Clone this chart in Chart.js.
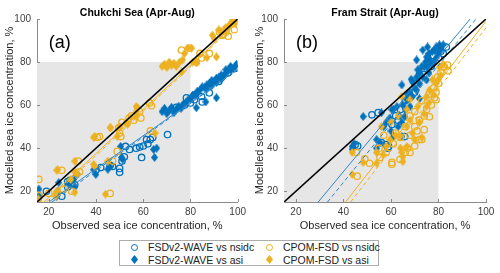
<!DOCTYPE html>
<html>
<head>
<meta charset="utf-8">
<script src="https://cdn.jsdelivr.net/npm/chart.js@4.4.1/dist/chart.umd.min.js"></script>
<style>
  body { margin: 0; background: #fff; width: 500px; height: 273px; position: relative; overflow: hidden;
         font-family: "Liberation Sans", Arial, sans-serif; }
  .panel { position: absolute; top: 0; width: 250px; height: 235px; }
  #legend { position: absolute; left: 119px; top: 240px; width: 258px; height: 24px;
            border: 1px solid #adadad; background: #fff; font-size: 10.5px; color: #222; }
  .item { position: absolute; white-space: nowrap; line-height: 12px; }
  .sym { position: absolute; }
  .circ { width: 5px; height: 5px; border-radius: 50%; border: 1.4px solid; }
  .dia { width: 5px; height: 5px; transform: scaleY(1.3) rotate(45deg); }
</style>
</head>
<body>
<div class="panel" style="left:0"><canvas id="chukchi"></canvas></div>
<div class="panel" style="left:250px"><canvas id="fram"></canvas></div>
<div id="legend">
  <div class="sym circ" style="left:11px;top:3px;border-color:#0072BD"></div>
  <div class="item" style="left:28px;top:0px">FSDv2-WAVE vs nsidc</div>
  <div class="sym dia" style="left:12px;top:16px;background:#0072BD"></div>
  <div class="item" style="left:28px;top:13px">FSDv2-WAVE vs asi</div>
  <div class="sym circ" style="left:146px;top:3px;border-color:#EDB120"></div>
  <div class="item" style="left:163px;top:0px">CPOM-FSD vs nsidc</div>
  <div class="sym dia" style="left:147px;top:16px;background:#EDB120"></div>
  <div class="item" style="left:163px;top:13px">CPOM-FSD vs asi</div>
</div>
<script>
const tickValues = [20, 40, 60, 80, 100];

// Chukchi Sea (a)
const chukchiFsdNsidc = [[15.5,17],[19,20],[25.5,17.7],[28,22],[29,25],[31,23],[28,24.5],[40,30],[42,31],[46,32],
  [47,31.5],[50,28.8],[50,30.6],[51,34],[52,36],[52.5,40.8],[54.2,39.4],[57,40],[58.5,40.5],[59.3,35.7],[60,41],
  [61.4,44],[62,42],[63,44],[64,45],[70.3,46.3],[78.3,63.4],[77.5,60],[81.7,62.5],[81.7,64.8],[84.7,64],[85,61.5],
  [88,65.7],[74,59],[80,61],[92,71],[96,75],[99,77]];
const chukchiFsdAsi = [[68,57],[69,58.5],[70,56],[71,57.5],[72,59],[73,56.5],[74,58],[75,59.5],[76,58.5],[77,60.5],
  [78,61],[79,62.5],[80,63],[81,64.5],[82,65],[83,66.5],[84,67],[85,68.5],[86,68],[87,69.5],[88,70],[89,71.5],[90,71],
  [91,72.5],[92,73],[93,74],[94,73.5],[95,75],[96,76],[97,76.5],[98,77],[99,78],[99.5,79],[97,78],[95,76.5],[93,72],
  [91,70.5],[89,69],[87,67.5],[82.5,58.8],[86.5,61.5],[91,63.4],[64.8,35.7],[65.7,40],[64.4,39.4],[50.4,40.8],
  [50.8,35.7],[51.3,34.8],[45.8,31.5],[45,30.2],[39,30],[39.9,27.8],[32,27.8],[30.5,25.5],[28.5,23.3],[24.2,24],
  [31,22],[23.8,20],[23.3,17.7],[15.8,21],[15.8,17.7]];
const chukchiCpomNsidc = [[15.8,25.5],[16,18],[20,19],[25.5,29.7],[29.7,20],[26,21],[32.5,34],[33,29],[41.5,45.4],
  [40.5,45],[47,34],[50.5,45.4],[49,38.5],[49.6,49.5],[50,47],[51,52],[54,54],[55,55],[56,53],[58.5,57],[59,54],
  [62.7,61],[63.5,59.7],[46,19],[23.5,19],[76.2,85.6],[79.5,86.5],[82.5,80],[84,84],[84.7,81.9],[88,84],[92.3,94],
  [95.3,95.7],[95,94],[98.6,95],[93.6,92.5],[96,92],[94,93],[63,48]];
const chukchiCpomAsi = [[15.8,15.4],[15.5,16.5],[23,17.7],[23.4,20],[31,19.5],[44,18.6],[23.4,29.7],[23.8,30],
  [29.3,25.5],[31,29],[32,28],[31,34],[39.5,31.5],[39,32.5],[39,45],[39.5,45.4],[45,34],[46.2,49.5],[49,45.4],[50,50],
  [46,49.5],[53,52],[53.4,51],[57,54.6],[57,59.3],[57.6,58.8],[65,47],[57,57],[68,78],[69,79],[70,77.5],[71,80],
  [72,78.5],[73,79.5],[74,78],[75.4,80],[76.7,81],[76.2,75.4],[77.5,84],[78.8,86.5],[80.5,86.5],[81,80],[82.6,79.6],
  [87,82],[91,82.4],[89.3,92.5],[90,91],[92,95],[96.5,97],[98,99.5],[99.5,100],[97,98],[99,98],[95,96],[93,94],[98.6,100]];
const chukchiFitSlope = [0.77, 0.78, 1.024, 1.03];
const chukchiFitIntercept = [-0.4, -1.6, -3.4, -4.6];

// Fram Strait (b)
const framFsdNsidc = [[45,41.7],[46,41],[52,55.5],[54.6,56.5],[56,42.6],[58,41.7],[58.8,40],[59,40.8],[65.8,45.4],
  [60.4,51],[62,55],[64,58],[66,62],[68,64],[70,70],[72,74],[74,77],[76,80],[78,83],[81,85],[83.3,87],[82,84],[80,82],
  [77,78],[70,66],[67,60],[63,53]];
const framFsdAsi = [[43.7,40.8],[43.7,39.5],[44.5,42],[48.3,54.7],[54,44],[54,40],[55.4,42.6],[56,56.5],[58,52],
  [59.5,54],[60.4,57.9],[61,58],[61,45.4],[62.5,59.3],[63.5,55],[64.6,45.4],[64.6,52],[64.6,69.4],[65,60],[65.8,54.6],
  [66.7,62.5],[67,65],[68,59.3],[68,66],[68.5,72],[69,64],[69,70.8],[70,68],[70.8,67],[70.8,73],[70.8,81],[71.3,76.4],
  [72,75],[72,70],[73,78],[73.4,73],[73.4,85.6],[74,77.7],[74.5,80],[75,71.7],[75,82.4],[75.4,77.7],[75.4,87],[76,84],
  [76.2,81],[77,79],[77.5,85],[78.3,85.6],[79,87],[79,82],[80,84],[80.4,87],[80.4,88],[81,86],[82,88],[78,80],[76,75],
  [72,63],[66,58],[63,50],[60,48],[57,50]];
const framCpomNsidc = [[45.8,27],[45.5,38],[51,33],[55.4,35.7],[58,38],[60.4,33.4],[60.4,32.5],[63.8,34.8],[66,38],
  [67,40],[68,38],[68,46],[70,41],[72,44],[73,44],[74,48.6],[70,50],[72,53],[74,55],[76.2,54.6],[75,58],[77,60],
  [78.3,63.4],[79,62.5],[79,66],[78,68],[79.6,73],[80,70],[81,75],[82,78],[82.5,77.7],[83.8,78.6],[84,76],[76,65],
  [73,62],[70,57],[66,50],[64,45],[61,42],[57,46],[55,40],[49,35],[62,47],[68,55],[71,48]];
const framCpomAsi = [[43.7,38],[43.7,27.8],[48.3,33.4],[54,33],[54,38],[56,50],[56.7,37],[59.6,44],[63.8,45.4],
  [64,40],[64.6,38],[65,33.8],[64.6,64],[65,36],[66.7,40.8],[66.7,50],[66.7,58],[68,53],[68,62.5],[70,44],[71.3,59.3],
  [73,45],[75,64],[75,59.3],[76.2,67],[77.5,71.7],[78,64.8],[80.4,77.7],[81,74],[79,70],[74,56],[72,52],[62,46],
  [58,41],[60,52],[63,55],[69,47],[76,61],[82,79],[80,72]];
const framFitSlope = [1.33, 1.36, 1.42, 1.42];
const framFitIntercept = [-24.1, -30.3, -43.1, -46.1];

const BLUE = '#0072BD', ORANGE = '#EDB120';
const FONT = '"Liberation Sans", Arial, sans-serif';

// filled diamond marker, a bit taller than wide like the matlab one
function diamond(color) {
  const c = document.createElement('canvas');
  c.width = 7; c.height = 9;
  const g = c.getContext('2d');
  g.fillStyle = color;
  g.beginPath();
  g.moveTo(3.5, 0); g.lineTo(7, 4.5); g.lineTo(3.5, 9); g.lineTo(0, 4.5);
  g.closePath(); g.fill();
  return c;
}

function fitLine(m, b) {
  const x0 = Math.max(15, (15 - b) / m);
  const x1 = Math.min(100, (100 - b) / m);
  return [{x: x0, y: m * x0 + b}, {x: x1, y: m * x1 + b}];
}

const pts = arr => arr.map(p => ({x: p[0], y: p[1]}));

const panelDeco = {
  id: 'panelDeco',
  beforeDatasetsDraw(chart) {
    const {ctx, scales: {x, y}} = chart;
    ctx.save();
    ctx.fillStyle = '#e6e6e6';
    ctx.fillRect(x.getPixelForValue(15), y.getPixelForValue(80),
      x.getPixelForValue(80) - x.getPixelForValue(15), y.getPixelForValue(15) - y.getPixelForValue(80));
    ctx.restore();
  },
  afterDraw(chart, args, opts) {
    const {ctx, chartArea: ca, scales: {x, y}} = chart;
    ctx.save();
    ctx.strokeStyle = '#8a8a8a';
    ctx.lineWidth = 1;
    ctx.beginPath();
    tickValues.forEach(v => {
      const px = Math.round(x.getPixelForValue(v)) + 0.5;
      ctx.moveTo(px, ca.bottom); ctx.lineTo(px, ca.bottom - 3);
      const py = Math.round(y.getPixelForValue(v)) + 0.5;
      ctx.moveTo(ca.left, py); ctx.lineTo(ca.left + 3, py);
    });
    ctx.stroke();
    ctx.fillStyle = '#000';
    ctx.font = 'bold 10.5px ' + FONT;
    ctx.textAlign = 'center';
    ctx.textBaseline = 'middle';
    ctx.fillText(opts.title, (ca.left + ca.right) / 2, 13);
    ctx.font = '18px ' + FONT;
    ctx.textAlign = 'left';
    ctx.textBaseline = 'alphabetic';
    ctx.fillText(opts.letter, x.getPixelForValue(20), 48);
    ctx.restore();
  }
};

function axis(isX, size) {
  return {
    type: 'linear', min: 15, max: 100,
    afterBuildTicks: s => { s.ticks = tickValues.map(v => ({value: v})); },
    afterFit: s => { if (isX) s.height = size; else s.width = size; },
    grid: {display: false, drawTicks: false, tickLength: 0},
    border: {display: true, color: '#8a8a8a', width: 1},
    ticks: {color: '#404040', font: {family: FONT, size: 10}, padding: isX ? 4 : 6, maxRotation: 0, autoSkip: false},
    title: {
      display: true, color: '#262626', font: {family: FONT, size: 11},
      text: isX ? 'Observed sea ice concentration, %' : 'Modelled sea ice concentration, %',
      padding: isX ? {top: 0, bottom: 2} : {top: 3, bottom: 0}
    }
  };
}

function makePanel(id, title, letter, series, slopes, intercepts, yWidth, rightPad) {
  const lineStyle = [
    {c: '#2f86c9', d: []}, {c: '#2f86c9', d: [4, 3]},
    {c: ORANGE, d: []}, {c: ORANGE, d: [4, 3]}
  ];
  const datasets = [{
    type: 'line', data: [{x: 15, y: 15}, {x: 100, y: 100}],
    borderColor: '#000', borderWidth: 1.6, pointRadius: 0, fill: false
  }];
  slopes.forEach((m, i) => datasets.push({
    type: 'line', data: fitLine(m, intercepts[i]),
    borderColor: lineStyle[i].c, borderDash: lineStyle[i].d, borderWidth: 1, pointRadius: 0, fill: false
  }));
  // later series on top: cpom asi, cpom nsidc, fsd asi, fsd nsidc
  datasets.push({data: pts(series[3]), pointStyle: diamond(ORANGE), pointRadius: 4});
  datasets.push({data: pts(series[2]), pointStyle: 'circle', pointRadius: 3.2, borderColor: ORANGE,
    backgroundColor: 'rgba(0,0,0,0)', borderWidth: 1.3});
  datasets.push({data: pts(series[1]), pointStyle: diamond(BLUE), pointRadius: 4});
  datasets.push({data: pts(series[0]), pointStyle: 'circle', pointRadius: 3.2, borderColor: BLUE,
    backgroundColor: 'rgba(0,0,0,0)', borderWidth: 1.3});

  new Chart(document.getElementById(id), {
    type: 'scatter',
    data: {datasets},
    options: {
      responsive: true,
      maintainAspectRatio: false,
      animation: false,
      layout: {padding: {left: 0, right: rightPad, top: 19, bottom: 0}},
      scales: {x: axis(true, 33), y: axis(false, yWidth)},
      plugins: {
        legend: {display: false},
        tooltip: {enabled: false},
        panelDeco: {title, letter}
      }
    },
    plugins: [panelDeco]
  });
}

makePanel('chukchi', 'Chukchi Sea (Apr-Aug)', '(a)',
  [chukchiFsdNsidc, chukchiFsdAsi, chukchiCpomNsidc, chukchiCpomAsi], chukchiFitSlope, chukchiFitIntercept, 37, 12);
makePanel('fram', 'Fram Strait (Apr-Aug)', '(b)',
  [framFsdNsidc, framFsdAsi, framCpomNsidc, framCpomAsi], framFitSlope, framFitIntercept, 34, 14);
</script>
</body>
</html>
